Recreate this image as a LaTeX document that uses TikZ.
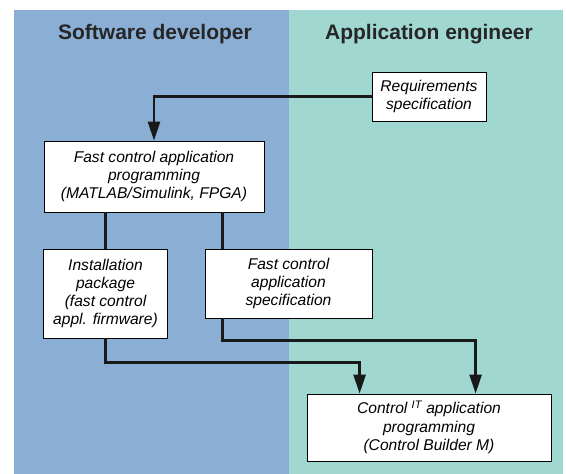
\documentclass[tikz,border=0pt]{standalone}
\usepackage{fontspec}
\setmainfont{Liberation Sans}
\usetikzlibrary{arrows.meta}
\definecolor{devblue}{RGB}{139,174,212}
\definecolor{engteal}{RGB}{160,215,208}
\tikzset{
  box/.style={draw=black, line width=0.8pt, fill=white, align=center, inner sep=0pt,
    font=\fontsize{15.6}{18.3}\selectfont\itshape},
  head/.style={font=\fontsize{21}{25}\selectfont\bfseries, anchor=base, text=black!85},
  flow/.style={line width=2.5pt, draw=black!90},
  arr/.style={flow, -{Triangle[length=19pt,width=12pt]}}
}
\begin{document}
\begin{tikzpicture}[x=1pt,y=-1pt]
  \useasboundingbox (0,0) rectangle (566,474);
  % the two lanes
  \fill[devblue] (14,10) rectangle (289,474);
  \fill[engteal] (289,10) rectangle (563,474);
  \node[head] (dev) at (155,39.5) {Software developer};
  \node[head] (eng) at (429,39.5) {Application engineer};

  % boxes
  \node[box, minimum width=114pt, minimum height=49pt] (req) at (429,96.5)
    {Requirements\\specification};
  \node[box, minimum width=220pt, minimum height=71pt] (fast) at (154,176.5)
    {Fast control application\\programming\\(MATLAB/Simulink, FPGA)};
  \node[box, minimum width=124pt, minimum height=89pt] (inst) at (105.5,293.5)
    {Installation\\package\\(fast control\\appl. firmware)};
  \node[box, minimum width=167pt, minimum height=69pt] (spec) at (288.5,283.5)
    {Fast control\\application\\specification};
  \node[box, minimum width=244pt, minimum height=67pt] (cb) at (429,427.5)
    {Control \textsuperscript{IT} application\\programming\\(Control Builder M)};

  % connectors
  \coordinate (s1) at ([xshift=18pt]spec.north west);
  \coordinate (s2) at ([xshift=18pt]spec.south west);
  \coordinate (c1) at ([xshift=53pt]cb.north west);
  \coordinate (c2) at ([xshift=169pt]cb.north west);
  \draw[arr] (req.west) -| (fast.north);
  \draw[flow] (fast.south -| inst.north) -- (inst.north);
  \draw[flow] (fast.south -| s1) -- (s1);
  \draw[arr] (inst.south) -- ++(0,24) -| (c1);
  \draw[arr] (s2) -- ++(0,22) -| (c2);
\end{tikzpicture}
\end{document}
